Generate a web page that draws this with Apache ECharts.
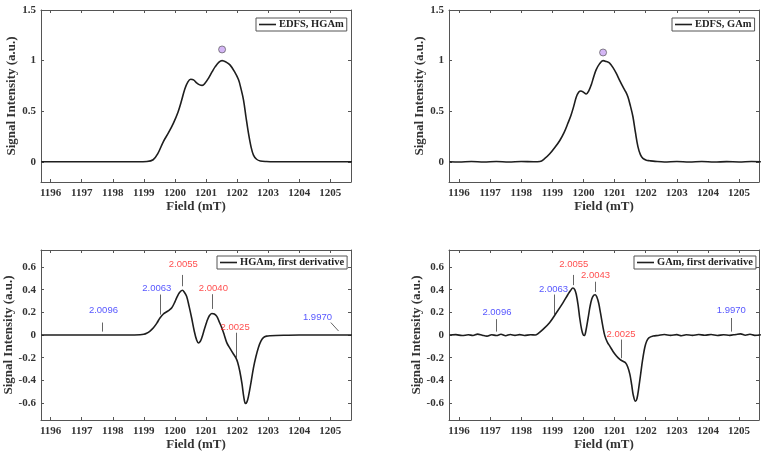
<!DOCTYPE html>
<html>
<head>
<meta charset="utf-8">
<script src="https://cdn.jsdelivr.net/npm/echarts@6/dist/echarts.min.js"></script>
<style>html,body{margin:0;padding:0;background:#fff}#c{width:766px;height:454px}</style>
</head>
<body>
<div id="c"></div>
<script>
// ---------- DATA ----------
const fieldTicks = [1196,1197,1198,1199,1200,1201,1202,1203,1204,1205];
const edfsTicks = [0,0.5,1,1.5];
const derivTicks = [-0.6,-0.4,-0.2,0,0.2,0.4,0.6];

// Panel A: EDFS, HGAm
const hgamEdfsField = [1195.7,1197,1198,1198.8,1199.1,1199.3,1199.45,1199.63,1199.8,1199.95,1200.1,1200.22,1200.32,1200.42,1200.51,1200.6,1200.7,1200.8,1200.88,1200.98,1201.08,1201.2,1201.3,1201.42,1201.52,1201.65,1201.78,1201.92,1202.05,1202.13,1202.21,1202.29,1202.37,1202.45,1202.53,1202.63,1202.75,1202.95,1203.2,1205.7];
const hgamEdfsSignal = [0,0,0,0,0.003,0.02,0.08,0.2,0.29,0.38,0.49,0.61,0.72,0.79,0.815,0.81,0.78,0.76,0.755,0.78,0.825,0.89,0.94,0.985,1.0,0.985,0.955,0.89,0.81,0.72,0.61,0.44,0.28,0.15,0.066,0.025,0.008,0.002,0,0];
const hgamEdfsMax = [1201.52, 1.11];

// Panel B: EDFS, GAm
const gamEdfsField = [1195.7,1196.0,1196.4,1196.8,1197.2,1197.6,1198.0,1198.4,1198.6,1198.75,1198.91,1199.08,1199.24,1199.38,1199.5,1199.6,1199.68,1199.77,1199.85,1199.92,1199.99,1200.09,1200.17,1200.25,1200.33,1200.41,1200.52,1200.63,1200.74,1200.84,1200.95,1201.06,1201.17,1201.27,1201.36,1201.43,1201.51,1201.59,1201.67,1201.75,1201.83,1201.91,1202.02,1202.13,1202.3,1202.6,1203.0,1203.4,1203.8,1204.2,1204.6,1205.0,1205.4,1205.7];
const gamEdfsSignal = [0,-0.003,0.002,-0.002,0.003,-0.002,0.002,0,0.003,0.03,0.076,0.14,0.21,0.29,0.38,0.46,0.54,0.64,0.69,0.70,0.69,0.67,0.70,0.76,0.84,0.91,0.97,1.0,0.99,0.975,0.93,0.87,0.80,0.74,0.69,0.64,0.55,0.445,0.29,0.15,0.07,0.033,0.015,0.01,0.004,-0.002,0.003,-0.002,0.002,-0.003,0.001,-0.002,0.002,0];
const gamEdfsMax = [1200.63, 1.08];

// Panel C: HGAm, first derivative
const hgamDerivField = [1195.7,1197,1198.5,1198.88,1199.0,1199.09,1199.2,1199.31,1199.42,1199.52,1199.63,1199.74,1199.82,1199.9,1199.98,1200.06,1200.15,1200.24,1200.31,1200.38,1200.46,1200.54,1200.62,1200.7,1200.76,1200.82,1200.87,1200.95,1201.03,1201.11,1201.19,1201.27,1201.35,1201.43,1201.51,1201.59,1201.67,1201.78,1201.89,1201.96,1202.02,1202.09,1202.16,1202.22,1202.27,1202.32,1202.37,1202.45,1202.53,1202.61,1202.69,1202.77,1202.85,1202.95,1203.07,1203.5,1204,1205.7];
const hgamDerivSignal = [0,0,0,0.002,0.006,0.015,0.035,0.064,0.105,0.15,0.185,0.205,0.22,0.24,0.28,0.33,0.375,0.395,0.375,0.34,0.25,0.15,0.04,-0.045,-0.07,-0.055,-0.023,0.05,0.12,0.17,0.19,0.185,0.165,0.115,0.064,0.0,-0.067,-0.12,-0.17,-0.2,-0.24,-0.32,-0.43,-0.55,-0.605,-0.59,-0.54,-0.42,-0.29,-0.19,-0.11,-0.055,-0.023,-0.01,-0.006,-0.002,0,0];

// Panel D: GAm, first derivative
const gamDerivField = [1195.7,1195.9,1196.1,1196.3,1196.45,1196.6,1196.75,1196.9,1197.05,1197.2,1197.35,1197.5,1197.65,1197.8,1197.95,1198.1,1198.3,1198.45,1198.55,1198.7,1198.91,1199.13,1199.34,1199.5,1199.58,1199.66,1199.72,1199.77,1199.83,1199.88,1199.94,1199.99,1200.03,1200.08,1200.15,1200.21,1200.27,1200.33,1200.38,1200.43,1200.49,1200.55,1200.62,1200.69,1200.77,1200.85,1200.95,1201.06,1201.17,1201.27,1201.35,1201.42,1201.49,1201.55,1201.6,1201.67,1201.72,1201.77,1201.83,1201.9,1201.97,1202.03,1202.1,1202.24,1202.4,1202.6,1202.8,1203.0,1203.15,1203.3,1203.5,1203.7,1203.9,1204.1,1204.3,1204.5,1204.7,1204.9,1205.05,1205.2,1205.35,1205.5,1205.7];
const gamDerivSignal = [0,0.003,-0.005,0.002,-0.004,0.008,-0.002,-0.01,0.002,-0.004,0.006,-0.006,0.004,-0.003,0.003,-0.004,0.002,0.0,0.015,0.05,0.108,0.196,0.284,0.357,0.39,0.415,0.4,0.357,0.26,0.15,0.05,0.002,-0.005,0.04,0.15,0.25,0.32,0.35,0.355,0.335,0.28,0.19,0.08,-0.01,-0.065,-0.1,-0.145,-0.185,-0.215,-0.232,-0.245,-0.28,-0.345,-0.44,-0.53,-0.585,-0.56,-0.48,-0.36,-0.22,-0.11,-0.055,-0.025,-0.009,-0.004,0.004,-0.003,0.003,-0.006,0.002,-0.003,0.004,-0.002,0.004,-0.004,0.002,-0.003,0.005,0.01,-0.002,0.006,-0.003,0.002];

// g-factor annotations: label, label position [x,y], stick [x1,y1,x2,y2], colour key
const hgamGLabels = ['2.0096','2.0063','2.0055','2.0040','2.0025','1.9970'];
const hgamGLabelPos = [[1197.70,0.217],[1199.42,0.407],[1200.27,0.62],[1201.24,0.41],[1201.94,0.07],[1204.59,0.152]];
const hgamGSticks = [[1197.66,0.11,1197.66,0.03],[1199.52,0.357,1199.52,0.18],[1200.25,0.53,1200.25,0.43],[1201.21,0.36,1201.21,0.23],[1201.96,0.02,1201.96,-0.2],[1205.02,0.11,1205.27,0.035]];
const hgamGKind = ['b','b','r','r','r','b'];

const gamGLabels = ['2.0096','2.0063','2.0055','2.0043','2.0025','1.9970'];
const gamGLabelPos = [[1197.22,0.196],[1199.04,0.40],[1199.69,0.62],[1200.39,0.524],[1201.21,0.006],[1204.75,0.217]];
const gamGSticks = [[1197.2,0.14,1197.2,0.03],[1199.05,0.357,1199.05,0.18],[1199.66,0.53,1199.66,0.44],[1200.37,0.47,1200.37,0.38],[1201.21,-0.04,1201.21,-0.205],[1204.75,0.15,1204.75,0.03]];
const gamGKind = ['b','b','r','r','r','b'];

const legendNames = ['EDFS, HGAm','EDFS, GAm','HGAm, first derivative','GAm, first derivative'];

// ---------- STYLE / LAYOUT ----------
const SERIF = '"Liberation Serif","Times New Roman",serif';
const SANS = '"Liberation Sans",Arial,sans-serif';
const FRAME = '#555';
const INK = '#1e1e1e';
const BLUE = '#2b2bff';
const RED = '#ff1f1f';

const grids = [
  {left:41, top:10, width:310, height:172},
  {left:449, top:10, width:310, height:172},
  {left:41, top:250, width:310, height:170},
  {left:449, top:250, width:310, height:170}
];
const xRanges = [[1195.69,1205.67],[1195.68,1205.64],[1195.69,1205.67],[1195.68,1205.64]];
const yRanges = [[-0.2,1.5],[-0.2,1.5],[-0.75,0.75],[-0.75,0.75]];
const yTickSets = [edfsTicks, edfsTicks, derivTicks, derivTicks];

function zip(a,b){ return a.map((v,i)=>[v,b[i]]); }
function fmtY(v){ return (Math.round(v*10)/10).toString(); }
function fmtX(v){ return String(Math.round(v)); }

const xAxis = [], yAxis = [];
for (let i=0;i<4;i++){
  const tickStyle = {show:true, inside:true, length:3, lineStyle:{color:FRAME,width:1}};
  xAxis.push({
    type:'value', gridIndex:i, position:'bottom', min:xRanges[i][0], max:xRanges[i][1],
    name:'Field (mT)', nameLocation:'middle', nameGap:18,
    nameTextStyle:{fontFamily:SERIF, fontWeight:'bold', fontSize:13, color:'#333'},
    axisLine:{show:true, onZero:false, lineStyle:{color:FRAME,width:1}},
    axisTick:Object.assign({customValues:fieldTicks}, tickStyle),
    axisLabel:{customValues:fieldTicks, formatter:fmtX, margin:6, fontFamily:SERIF, fontWeight:'bold', fontSize:11, color:'#333'},
    splitLine:{show:false}
  });
  xAxis.push({
    type:'value', gridIndex:i, position:'top', min:xRanges[i][0], max:xRanges[i][1],
    axisLine:{show:true, onZero:false, lineStyle:{color:FRAME,width:1}},
    axisTick:Object.assign({customValues:fieldTicks}, tickStyle),
    axisLabel:{show:false}, splitLine:{show:false}
  });
  yAxis.push({
    type:'value', gridIndex:i, position:'left', min:yRanges[i][0], max:yRanges[i][1],
    name:'Signal Intensity (a.u.)', nameLocation:'middle', nameGap:23,
    nameTextStyle:{fontFamily:SERIF, fontWeight:'bold', fontSize:13, color:'#333'},
    axisLine:{show:true, onZero:false, lineStyle:{color:FRAME,width:1}},
    axisTick:Object.assign({customValues:yTickSets[i]}, tickStyle),
    axisLabel:{customValues:yTickSets[i], margin:5, formatter:fmtY, fontFamily:SERIF, fontWeight:'bold', fontSize:11, color:'#333'},
    splitLine:{show:false}
  });
  yAxis.push({
    type:'value', gridIndex:i, position:'right', min:yRanges[i][0], max:yRanges[i][1],
    axisLine:{show:true, onZero:false, lineStyle:{color:FRAME,width:1}},
    axisTick:Object.assign({customValues:yTickSets[i]}, tickStyle),
    axisLabel:{show:false}, splitLine:{show:false}
  });
}

const curves = [
  zip(hgamEdfsField, hgamEdfsSignal),
  zip(gamEdfsField, gamEdfsSignal),
  zip(hgamDerivField, hgamDerivSignal),
  zip(gamDerivField, gamDerivSignal)
];

const series = [];
for (let i=0;i<4;i++){
  series.push({
    name:legendNames[i], type:'line', xAxisIndex:2*i, yAxisIndex:2*i,
    data:curves[i], smooth:0.35, symbol:'none', showSymbol:false,
    lineStyle:{color:INK, width:1.6}, itemStyle:{color:INK}, z:3, animation:false
  });
}
// peak markers
[[hgamEdfsMax,0],[gamEdfsMax,1]].forEach(([pt,i])=>{
  series.push({
    name:'max'+i, type:'scatter', xAxisIndex:2*i, yAxisIndex:2*i,
    data:[pt], symbol:'circle', symbolSize:7,
    itemStyle:{color:'#c9a4f2', borderColor:'#4a4a4a', borderWidth:0.8}, animation:false
  });
});
// g-factor annotations
[[hgamGLabels,hgamGLabelPos,hgamGSticks,hgamGKind,2],[gamGLabels,gamGLabelPos,gamGSticks,gamGKind,3]].forEach(([labs,pos,sticks,kind,i])=>{
  series.push({
    name:'sticks'+i, type:'lines', coordinateSystem:'cartesian2d', xAxisIndex:2*i, yAxisIndex:2*i,
    polyline:false, silent:true, animation:false,
    lineStyle:{color:'#666', width:1, opacity:1},
    data:sticks.map(s=>({coords:[[s[0],s[1]],[s[2],s[3]]]}))
  });
  series.push({
    name:'glab'+i, type:'scatter', xAxisIndex:2*i, yAxisIndex:2*i,
    symbolSize:2, itemStyle:{color:'rgba(0,0,0,0)'}, animation:false, silent:true, z:5,
    labelLayout:{hideOverlap:false},
    data:labs.map((l,k)=>({name:l, value:pos[k], label:{show:true, color: kind[k]==='b'?BLUE:RED}})),
    label:{show:true, position:'inside', formatter:p=>p.name, fontFamily:SANS, fontSize:9.5}
  });
});

const legendPos = [
  {left:256, top:18},
  {left:672, top:18},
  {left:217, top:256},
  {left:634, top:256}
];
const legend = legendNames.map((n,i)=>({
  data:[{name:n, icon:'rect'}], left:legendPos[i].left, top:legendPos[i].top,
  orient:'horizontal', padding:[1,3,1,3], itemWidth:17, itemHeight:1.6, itemGap:0,
  itemStyle:{color:INK},
  borderColor:'#555', borderWidth:1, backgroundColor:'#fff',
  textStyle:{fontFamily:SERIF, fontWeight:'bold', fontSize:10.5, color:'#222', padding:[0,0,0,-2]},
  selectedMode:false
}));

const chart = echarts.init(document.getElementById('c'), null, {renderer:'canvas'});
chart.setOption({
  animation:false,
  backgroundColor:'#fff',
  grid:grids.map(g=>Object.assign({outerBoundsMode:'none', containLabel:false}, g)),
  xAxis, yAxis, series, legend
});
</script>
</body>
</html>
